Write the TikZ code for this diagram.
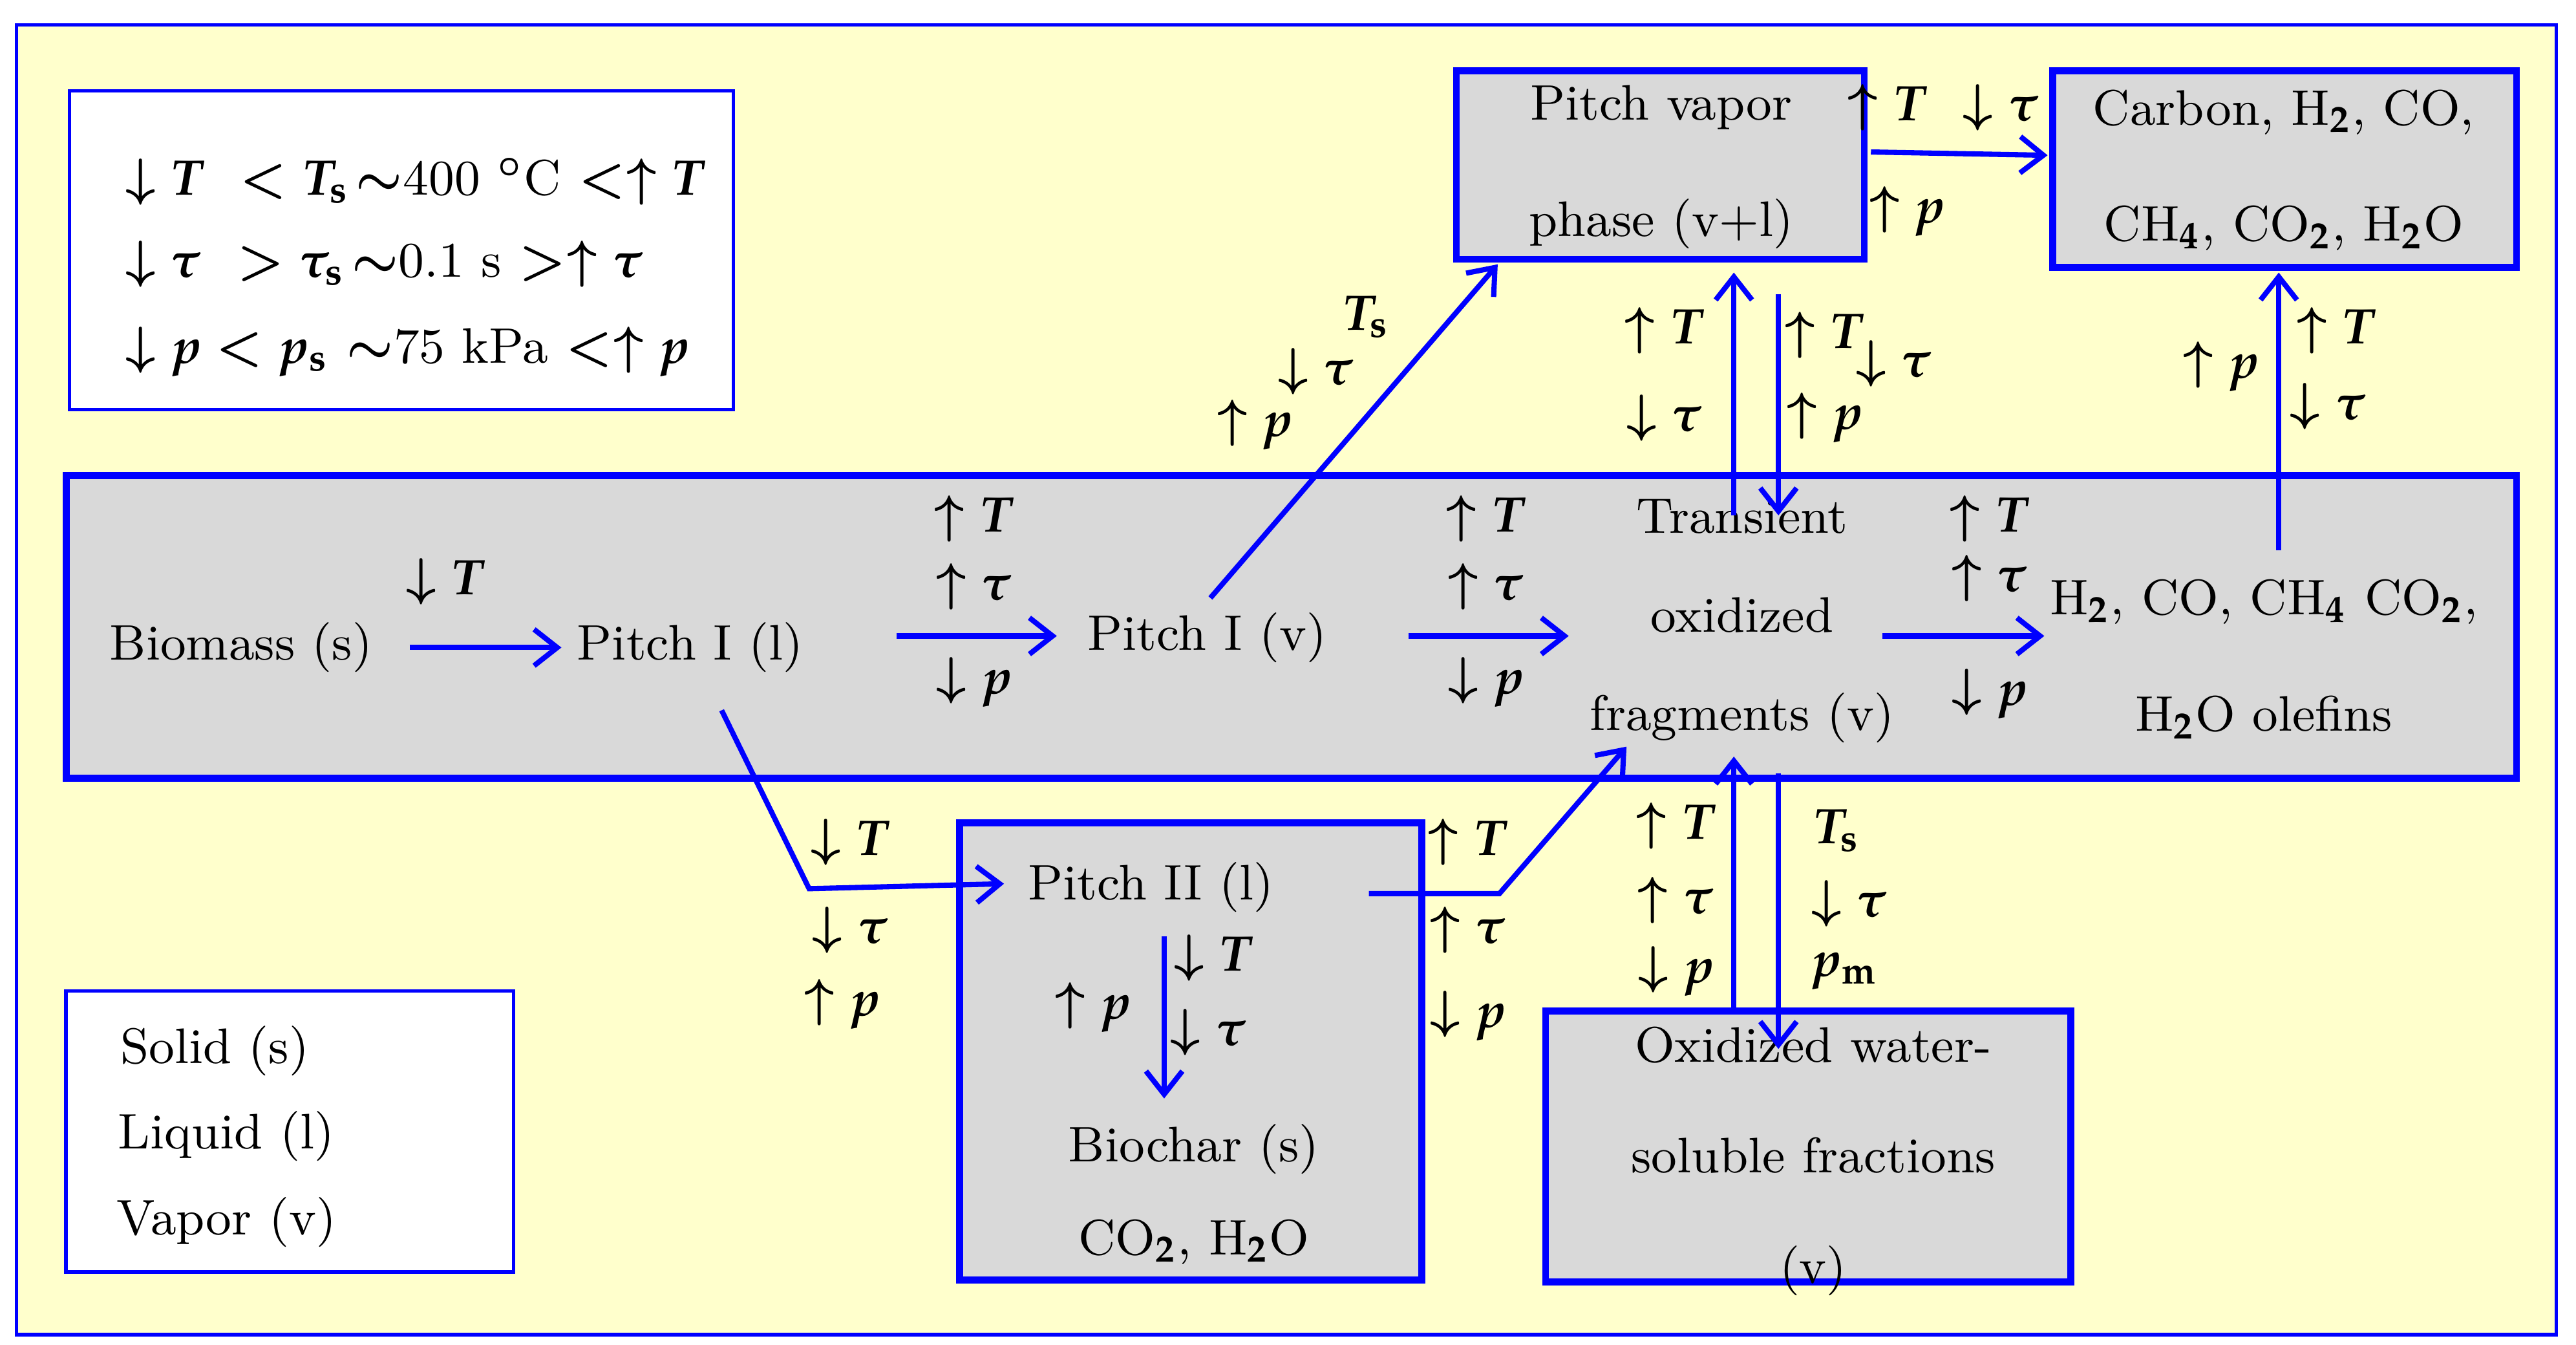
\documentclass[tikz,border=0pt]{standalone}
\usepackage{mathpazo}
\usetikzlibrary{arrows.meta}
\definecolor{bgy}{RGB}{255,255,204}
\definecolor{boxg}{RGB}{217,217,217}
\begin{document}
\begin{tikzpicture}[x=0.01cm,y=-0.01cm,
  every node/.style={font=\fontsize{8.6}{10}\selectfont\bfseries\boldmath, inner sep=0pt},
  thickbox/.style={draw=blue, line width=1.2pt, fill=boxg},
  thinbox/.style={draw=blue, line width=0.6pt, fill=white},
  arr/.style={draw=blue, line width=0.9pt, -{Straight Barb[length=1.4mm,width=2.2mm,line width=0.9pt]}},
  ln/.style={draw=blue, line width=0.9pt}]
\useasboundingbox (0,0) rectangle (1560,814);
\draw[fill=bgy, draw=blue, line width=0.6pt] (10,15) rectangle (1548,808);
\draw[thinbox] (42,55) rectangle (444,248);
\node[anchor=west] (l1) at (75,110) {$\downarrow T$ \ $<T_{\mathrm s}\!\sim$400 $^\circ$C $<\uparrow T$};
\node[anchor=west] (l2) at (75,160) {$\downarrow\tau$ \ $>\tau_{\mathrm s}\!\sim$0.1 s $>\uparrow\tau$};
\node[anchor=west] (l3) at (75,213) {$\downarrow p<p_{\mathrm s}$ $\sim$75 kPa $<\uparrow p$};
\draw[thickbox] (40,288) rectangle (1524,471);
\draw[thickbox] (882,43) rectangle (1129,157);
\draw[thickbox] (1243,43) rectangle (1524,162);
\draw[thickbox] (581,498) rectangle (861,775);
\draw[thickbox] (936,612) rectangle (1254,776);
\draw[thinbox] (40,600) rectangle (311,770);
\node (s) at (130,636) {Solid (s)};
\node (l) at (137,688) {Liquid (l)};
\node (v) at (137,740) {Vapor (v)};
\node (bio) at (146,392) {Biomass (s)};
\node (p1l) at (418,392) {Pitch I (l)};
\node (p1v) at (731,386) {Pitch I (v)};
\node[align=center] (tr) at (1055,376) {Transient\\[7pt]oxidized\\[7pt]fragments (v)};
\node[align=center] (gas) at (1371,399) {H$_2$, CO, CH$_4$ CO$_2$,\\[10pt]H$_2$O olefins};
\node[align=center] (pv) at (1006,101) {Pitch vapor\\[10pt]phase (v+l)};
\node[align=center] (carb) at (1383,103) {Carbon, H$_2$, CO,\\[10pt]CH$_4$, CO$_2$, H$_2$O};
\node (p2) at (697,537) {Pitch II (l)};
\node[align=center] (bc) at (723,723) {Biochar (s)\\[6pt]CO$_2$, H$_2$O};
\node[align=center] (ox) at (1098,703) {Oxidized water-\\[9pt]soluble fractions\\[9pt](v)};
% horizontal arrows
\coordinate (a1s) at (248,392); \coordinate (a1e) at (340,392);
\draw[arr] (a1s) -- (a1e);
\node at (270,352) {$\downarrow T$};
\coordinate (a2s) at (543,385); \coordinate (a2e) at (640,385);
\draw[arr] (a2s) -- (a2e);
\node at (590,314) {$\uparrow T$}; \node at (590,355) {$\uparrow\tau$}; \node at (590,413) {$\downarrow p$};
\coordinate (a3s) at (853,385); \coordinate (a3e) at (950,385);
\draw[arr] (a3s) -- (a3e);
\node at (900,314) {$\uparrow T$}; \node at (900,355) {$\uparrow\tau$}; \node at (900,413) {$\downarrow p$};
\coordinate (a4s) at (1140,385); \coordinate (a4e) at (1238,385);
\draw[arr] (a4s) -- (a4e);
\node at (1205,314) {$\uparrow T$}; \node at (1205,350) {$\uparrow\tau$}; \node at (1205,420) {$\downarrow p$};
% to pitch vapor
\coordinate (b1s) at (733,362); \coordinate (b1e) at (907,160);
\draw[arr] (b1s) -- (b1e);
\node at (827,192) {$T_{\mathrm s}$}; \node at (797,225) {$\downarrow\tau$}; \node at (760,257) {$\uparrow p$};
\coordinate (c1s) at (1133,92); \coordinate (c1e) at (1240,94);
\draw[arr] (c1s) -- (c1e);
\node at (1177,65) {$\uparrow T$ \ $\downarrow\tau$}; \node at (1155,128) {$\uparrow p$};
% vertical between transient and pitch vapor
\coordinate (d1s) at (1050,312); \coordinate (d1e) at (1050,165);
\draw[arr] (d1s) -- (d1e);
\coordinate (d2s) at (1077,178); \coordinate (d2e) at (1077,312);
\draw[arr] (d2s) -- (d2e);
\node at (1008,200) {$\uparrow T$}; \node at (1008,253) {$\downarrow\tau$};
\node at (1105,203) {$\uparrow T$}; \node at (1147,220) {$\downarrow\tau$}; \node at (1105,253) {$\uparrow p$};
% gas to carbon
\coordinate (e1s) at (1380,333); \coordinate (e1e) at (1380,165);
\draw[arr] (e1s) -- (e1e);
\node at (1345,222) {$\uparrow p$}; \node at (1415,200) {$\uparrow T$}; \node at (1410,246) {$\downarrow\tau$};
% pitch I(l) to pitch II
\coordinate (f1s) at (437,430); \coordinate (f1m) at (490,538); \coordinate (f1e) at (608,535);
\draw[arr] (f1s) -- (f1m) -- (f1e);
\node at (515,510) {$\downarrow T$}; \node at (515,563) {$\downarrow\tau$}; \node at (510,608) {$\uparrow p$};
% pitch II to transient
\coordinate (g1s) at (829,541); \coordinate (g1m) at (908,541); \coordinate (g1e) at (985,452);
\draw[arr] (g1s) -- (g1m) -- (g1e);
\node at (889,510) {$\uparrow T$}; \node at (889,563) {$\uparrow\tau$}; \node at (889,615) {$\downarrow p$};
% pitch II down
\coordinate (h1s) at (705,567); \coordinate (h1e) at (705,665);
\draw[arr] (h1s) -- (h1e);
\node at (735,580) {$\downarrow T$}; \node at (732,625) {$\downarrow\tau$}; \node at (662,610) {$\uparrow p$};
% oxidized
\coordinate (i1s) at (1050,612); \coordinate (i1e) at (1050,458);
\draw[arr] (i1s) -- (i1e);
\coordinate (i2s) at (1077,468); \coordinate (i2e) at (1077,635);
\draw[arr] (i2s) -- (i2e);
\node at (1015,500) {$\uparrow T$}; \node at (1015,545) {$\uparrow\tau$}; \node at (1015,588) {$\downarrow p$};
\node at (1112,503) {$T_{\mathrm s}$}; \node at (1120,547) {$\downarrow\tau$}; \node at (1117,588) {$p_{\mathrm m}$};
\end{tikzpicture}
\end{document}
